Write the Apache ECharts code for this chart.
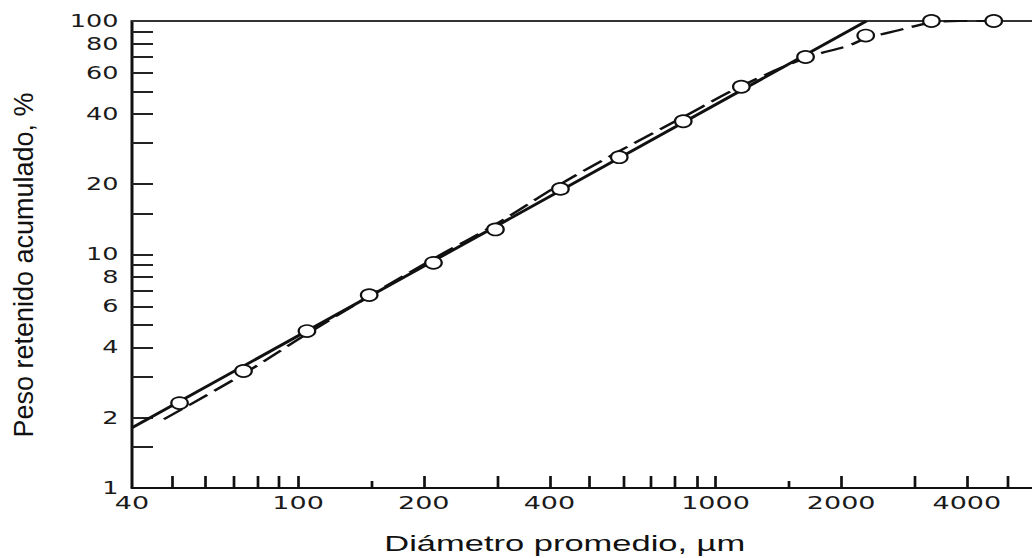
<!DOCTYPE html>
<html><head><meta charset="utf-8">
<script src="https://cdn.jsdelivr.net/npm/echarts@6/dist/echarts.min.js"></script>
<style>
html,body{margin:0;padding:0;background:#fff;overflow:hidden;}
#wrap{width:1032px;height:558px;overflow:hidden;position:relative;}
#chart{width:688px;height:558px;transform:scaleX(1.5);transform-origin:0 0;}
</style></head><body><div id="wrap"><div id="chart"></div></div>
<script>
// measured points (diameter in µm, cumulative retained %)
const diameters = [52, 74, 105, 148, 211, 297, 425, 588, 837, 1153, 1643, 2290, 3290, 4640];
const retained = [2.31, 3.17, 4.70, 6.70, 9.21, 12.8, 19.1, 26.1, 37.2, 52.3, 70.1, 86.6, 100, 100];
// straight fitted line (solid)
const fitLineX = [40, 2300];
const fitLineY = [1.81, 100];
// curved fit (dashed)
const curveX = [47.7, 74, 105, 148, 211, 298, 425, 588, 837, 1153, 1643, 2090, 2290, 2760, 3270, 3845, 4530];
const curveY = [1.97, 3.08, 4.57, 6.63, 9.59, 13.5, 20.0, 27.7, 38.8, 52.6, 69.4, 78.6, 84.2, 91.5, 98.2, 100, 100];
// axis ticks / labels
const xLabelValues = [40, 100, 200, 400, 1000, 2000, 4000];
const xTickValues = [50, 60, 70, 80, 90, 100, 200, 300, 400, 500, 600, 700, 800, 900, 1000, 2000, 3000, 4000, 5000];
const xShortTickValues = [150, 1500];
const yLabelValues = [1, 2, 4, 6, 8, 10, 20, 40, 60, 80, 100];
const yTickValues = [1.5, 2, 3, 4, 5, 6, 7, 8, 9, 10, 15, 20, 30, 40, 50, 60, 70, 80, 90];
const xTitle = 'Diámetro promedio, µm';
const yTitle = 'Peso retenido acumulado, %';

const SX = 1.5;
const ink = '#111';
const plain = v => String(Math.round(v * 100) / 100);
const chart = echarts.init(document.getElementById('chart'), null, {renderer: 'svg'});
const xRange = {min: 40, max: 5730};
chart.setOption({
  animation: false,
  backgroundColor: '#fff',
  grid: {left: 88, right: 0, top: 21, bottom: 70, containLabel: false, outerBoundsMode: 'none'},
  xAxis: [{
    type: 'log', logBase: 10, min: xRange.min, max: xRange.max,
    axisLine: {show: true, lineStyle: {color: ink, width: 2}},
    axisTick: {show: true, inside: true, length: 12, customValues: xTickValues, lineStyle: {color: ink, width: 1.8}},
    axisLabel: {show: true, customValues: xLabelValues, formatter: plain, margin: 6, fontFamily: 'DejaVu Sans', fontSize: 18, color: '#1a1a1a'},
    splitLine: {show: false}, minorTick: {show: false},
    name: xTitle, nameLocation: 'middle', nameGap: 43,
    nameTextStyle: {fontFamily: 'Liberation Sans', fontSize: 23, color: ink, padding: [0, 23, 0, 0]}
  }, {
    type: 'log', logBase: 10, min: xRange.min, max: xRange.max, position: 'bottom',
    axisLine: {show: false},
    axisTick: {show: true, inside: true, length: 7, customValues: xShortTickValues, lineStyle: {color: ink, width: 1.8}},
    axisLabel: {show: false}, splitLine: {show: false}
  }, {
    type: 'log', logBase: 10, min: xRange.min, max: xRange.max, position: 'top',
    axisLine: {show: true, lineStyle: {color: '#333', width: 2}},
    axisTick: {show: false}, axisLabel: {show: false}, splitLine: {show: false}
  }],
  yAxis: {
    type: 'log', logBase: 10, min: 1, max: 100,
    axisLine: {show: true, lineStyle: {color: ink, width: 2}},
    axisTick: {show: true, inside: true, length: 14, customValues: yTickValues, lineStyle: {color: '#222', width: 2}},
    axisLabel: {show: true, customValues: yLabelValues, formatter: plain, margin: 9, fontFamily: 'DejaVu Sans', fontSize: 17, color: '#1a1a1a'},
    splitLine: {show: false}, minorTick: {show: false}
  },
  graphic: [{
    type: 'text', x: 23.5 / SX, y: 265, rotation: Math.PI / 2, scaleY: 1 / SX,
    style: {text: yTitle, font: '27px "Liberation Sans"', fill: ink,
      textAlign: 'center', textVerticalAlign: 'middle', align: 'center', verticalAlign: 'middle'}
  }],
  series: [{
    type: 'line', xAxisIndex: 0, yAxisIndex: 0,
    data: fitLineX.map((x, i) => [x, fitLineY[i]]),
    symbol: 'none', lineStyle: {color: ink, width: 2.6}, z: 2
  }, {
    type: 'line', xAxisIndex: 0, yAxisIndex: 0,
    data: curveX.map((x, i) => [x, curveY[i]]),
    smooth: 0.35, symbol: 'none', lineStyle: {color: ink, width: 2.2, type: [16, 6]}, z: 3
  }, {
    type: 'scatter', xAxisIndex: 0, yAxisIndex: 0,
    data: diameters.map((x, i) => [x, retained[i]]),
    symbol: 'circle', symbolSize: [11, 12], clip: false,
    itemStyle: {color: '#ffffff', opacity: 1, borderColor: ink, borderWidth: 1.6}, z: 5
  }]
});
</script></body></html>
